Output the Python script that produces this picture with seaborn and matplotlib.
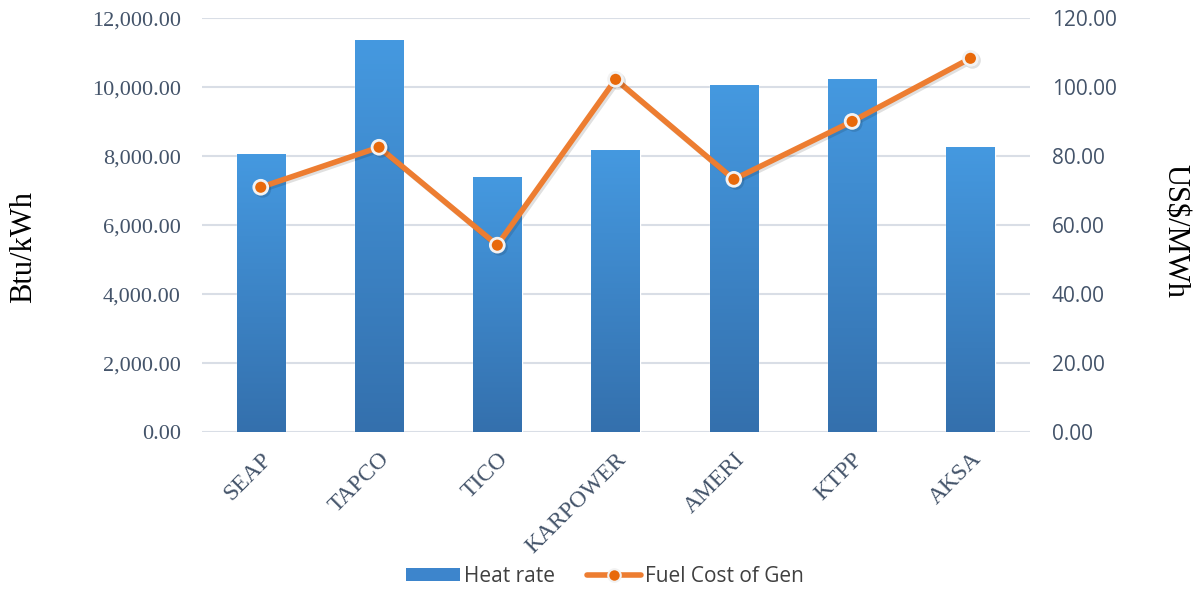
import numpy as np
import matplotlib
matplotlib.use('Agg')
import matplotlib.pyplot as plt
import matplotlib.patheffects as pe
from matplotlib.patches import Patch
from matplotlib.lines import Line2D
from matplotlib.colors import LinearSegmentedColormap
import seaborn as sns
import pandas as pd

# data
plants = ['SEAP', 'TAPCO', 'TICO', 'KARPOWER', 'AMERI', 'KTPP', 'AKSA']
heat_rate = [8050, 11360, 7390, 8170, 10060, 10230, 8260]      # Btu/kWh
fuel_cost = [71.0, 82.6, 54.2, 102.3, 73.3, 90.1, 108.4]       # US$/MWh

left_ticks = [0, 2000, 4000, 6000, 8000, 10000, 12000]
right_ticks = [0, 20, 40, 60, 80, 100, 120]

df = pd.DataFrame({'plant': plants, 'heat': heat_rate, 'cost': fuel_cost})

sns.set_style('white')
tick_col = '#44546A'
grid_col = '#D9DEE6'
orange = '#ED7D31'

fig = plt.figure(figsize=(11.93, 5.91), dpi=100)
ax = fig.add_axes([0.169, 0.269, 0.694, 0.700])
ax2 = ax.twinx()

sns.barplot(data=df, x='plant', y='heat', ax=ax, color='#3D85CC', width=0.41,
            saturation=1, zorder=2)

# vertical gradient on bars (light top, darker bottom)
cmap = LinearSegmentedColormap.from_list('bar', ['#3470AD', '#4599E0'])
grad = np.linspace(0, 1, 256).reshape(-1, 1)
for p in list(ax.patches):
    x0, y0 = p.get_x(), p.get_y()
    w, h = p.get_width(), p.get_height()
    p.set_path_effects([pe.SimplePatchShadow(offset=(0, -1), alpha=0.25, shadow_rgbFace='#808080'),
                        pe.Normal()])
    im = ax.imshow(grad, cmap=cmap, origin='lower', aspect='auto',
                   extent=(x0, x0 + w, y0, y0 + h), zorder=2.5)
    im.set_clip_path(p)
ax.set_ylim(0, 12000)
ax.set_xlim(-0.5, len(plants) - 0.5)

sns.pointplot(data=df, x='plant', y='cost', ax=ax2, color=orange, markers='o',
              linestyles='-', linewidth=4, markersize=10,
              markerfacecolor='#E8690A', markeredgecolor='#F2F2F2', markeredgewidth=2)
ax2.set_ylim(0, 120)
ax2.set_xlim(-0.5, len(plants) - 0.5)
for ln in ax2.lines:
    ln.set_path_effects([pe.SimpleLineShadow(offset=(1.5, -1.5), alpha=0.12), pe.Normal()])

# grid and spines
ax.set_yticks(left_ticks)
ax.yaxis.grid(True, color=grid_col, lw=1.5, zorder=0)
ax.set_axisbelow(True)
for s in ax.spines.values():
    s.set_visible(False)
for s in ax2.spines.values():
    s.set_visible(False)
ax.tick_params(length=0)
ax2.tick_params(length=0)

ax.set_yticklabels([f'{v:,.2f}' for v in left_ticks], fontsize=16,
                   family='Liberation Serif', color=tick_col)
ax.tick_params(axis='y', pad=15)
ax2.set_yticks(right_ticks)
ax2.set_yticklabels([f'{v:.2f}' for v in right_ticks], fontsize=15,
                    family='Open Sans', color=tick_col)
ax2.tick_params(axis='y', pad=16)

ax.set_xticks(range(len(plants)))
ax.set_xticklabels(plants, rotation=45, ha='right', rotation_mode='anchor',
                   fontsize=17, family='Liberation Serif', color=tick_col)
ax.tick_params(axis='x', pad=12)
ax.set_xlabel('')
ax2.set_xlabel('')

ax.set_ylabel('Btu/kWh', fontsize=22, family='Liberation Serif', color='black',
              va='center')
ax.yaxis.set_label_coords(-0.215, 0.448)
ax2.set_ylabel('US$/MWh', fontsize=22, family='Liberation Serif', color='black',
               rotation=270, va='center')
ax2.yaxis.set_label_coords(1.175, 0.485)

handles = [Patch(facecolor='#3D85CC', edgecolor='none'),
           Line2D([0], [0], color=orange, lw=4, marker='o', markersize=9,
                  markerfacecolor='#E8690A', markeredgecolor='#F2F2F2', markeredgewidth=1.5)]
fig.legend(handles, ['Heat rate', 'Fuel Cost of Gen'], loc='center',
           bbox_to_anchor=(0.507, 0.025), ncol=2, frameon=False,
           prop={'family': 'Open Sans', 'size': 15}, labelcolor='#404040',
           handlelength=2.6, handleheight=0.6, handletextpad=0.2, columnspacing=1.5)

fig.savefig('out.png', dpi=100)
